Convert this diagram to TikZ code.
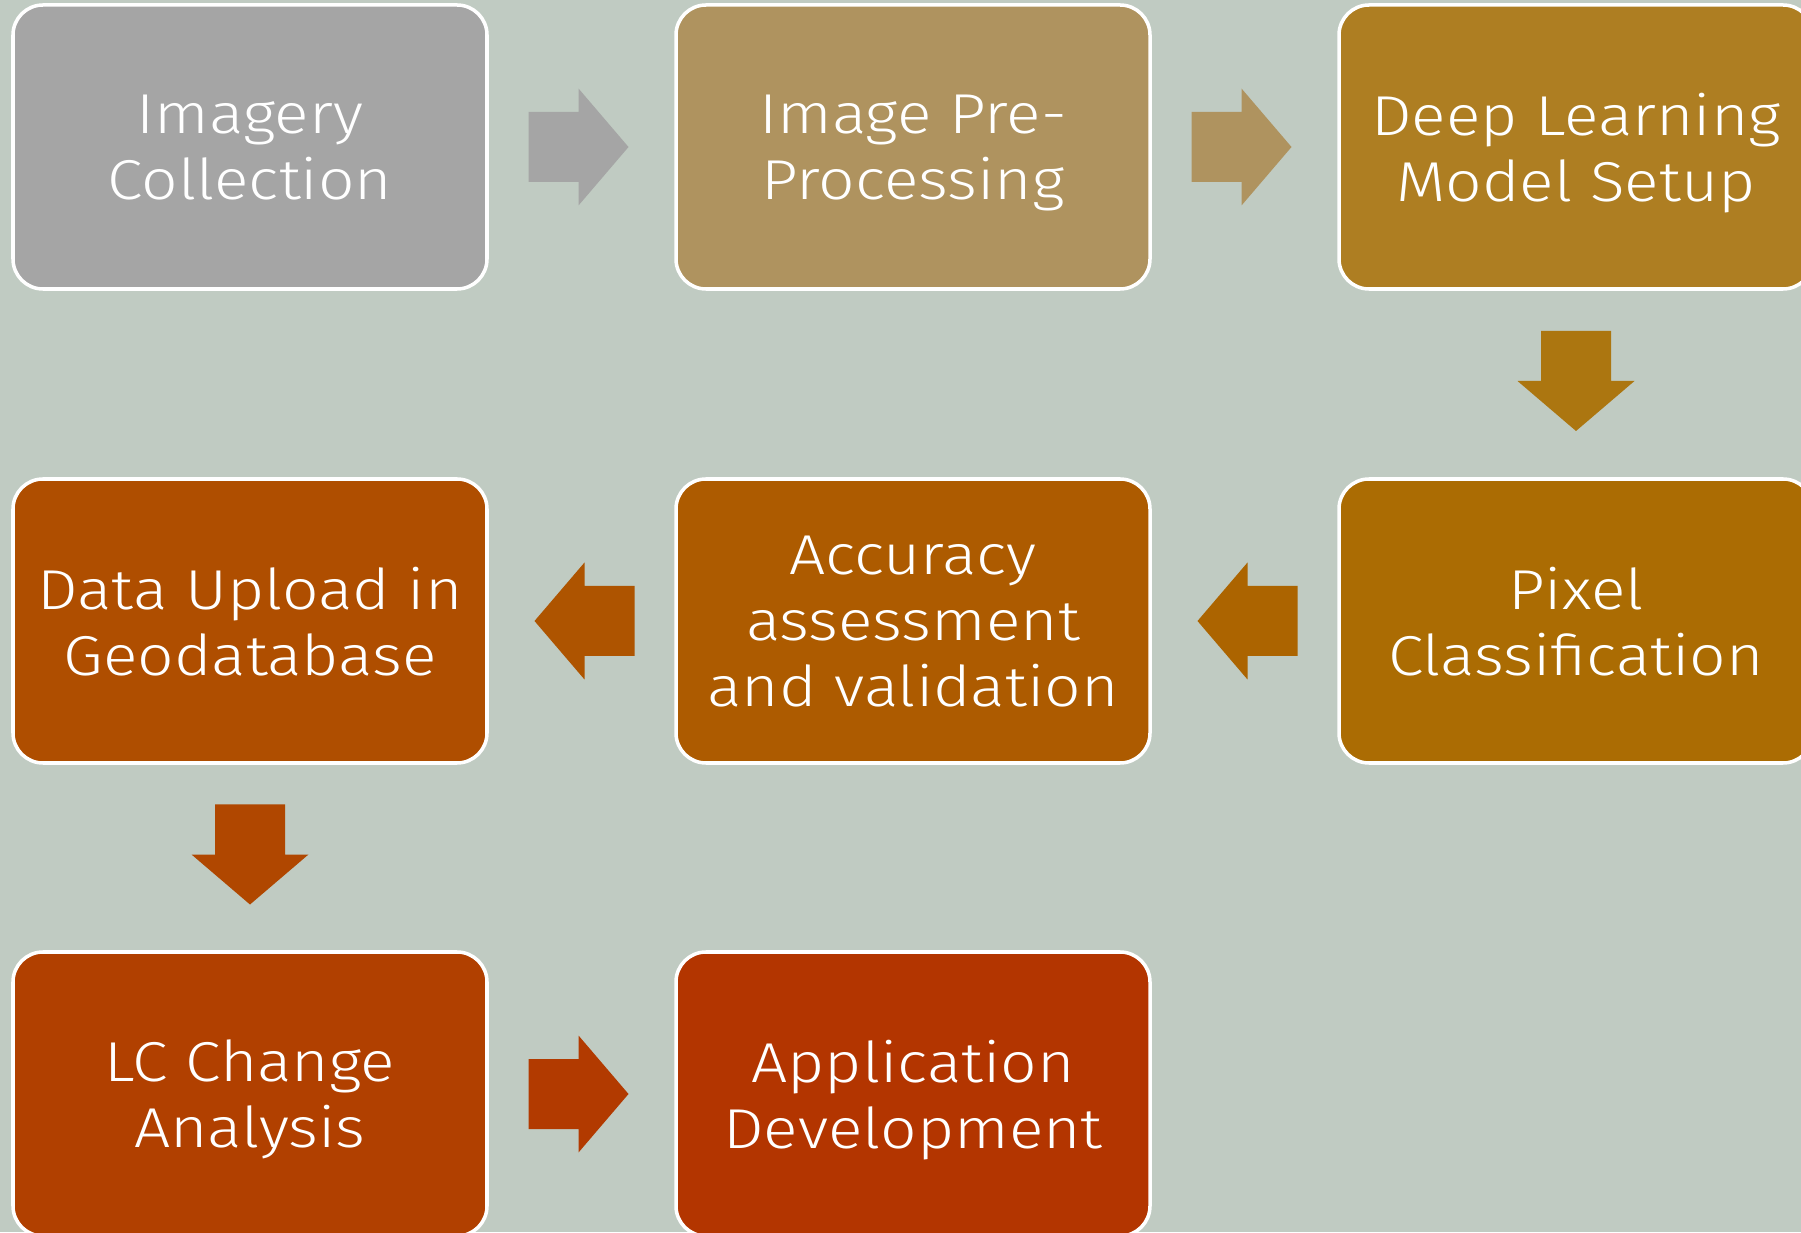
\documentclass[tikz,border=0pt]{standalone}
\usepackage{fontspec}
\setmainfont[FakeStretch=1.14]{Fira Sans Light}
\usetikzlibrary{calc}

\definecolor{bgGrey}{HTML}{C0CBC2}
\definecolor{cImg}{HTML}{A5A5A5}
\definecolor{cPre}{HTML}{AF935F}
\definecolor{cDeep}{HTML}{AE7E22}
\definecolor{cPix}{HTML}{AB6C03}
\definecolor{cAcc}{HTML}{AD5B00}
\definecolor{cUp}{HTML}{AF4E00}
\definecolor{cLc}{HTML}{B14000}
\definecolor{cApp}{HTML}{B33500}
\definecolor{aDeep}{HTML}{AC7610}
\definecolor{aPix}{HTML}{AC6400}
\definecolor{aAcc}{HTML}{AE5400}
\definecolor{aUp}{HTML}{B04700}
\definecolor{aLc}{HTML}{B23A00}

\begin{document}
\begin{tikzpicture}[
        stepbox/.style={rectangle, rounded corners=0.3cm, draw=white, line width=1pt,
            minimum width=4.74cm, minimum height=2.84cm, inner sep=0pt, outer sep=0pt,
            text=white, align=center, text depth=0pt,
            font=\fontsize{16}{18.8}\selectfont},
    ]

        \useasboundingbox (0,0) rectangle (18.01,12.32);
        \fill[bgGrey] (0,0) rectangle (18.01,12.32);

        \node[stepbox, fill=cImg]  (img)  at (2.50, 10.85) {Imagery\\Collection};
        \node[stepbox, fill=cPre]  (pre)  at (9.13, 10.85) {Image Pre-\\Processing};
        \node[stepbox, fill=cDeep] (deep) at (15.76, 10.85) {Deep Learning\\Model Setup};

        \node[stepbox, fill=cPix]  (pix)  at (15.76, 6.11) {Pixel\\Classification};
        \node[stepbox, fill=cAcc]  (acc)  at (9.13, 6.11) {Accuracy\\assessment\\and validation};
        \node[stepbox, fill=cUp]   (up)   at (2.50, 6.11) {Data Upload in\\Geodatabase};

        \node[stepbox, fill=cLc]   (lc)   at (2.50, 1.38) {LC Change\\Analysis};
        \node[stepbox, fill=cApp]  (app)  at (9.13, 1.38) {Application\\Development};

        % block arrows between the steps
        \foreach \from/\to/\ang/\col in {img/pre/0/cImg, pre/deep/0/cPre, deep/pix/-90/aDeep,
                pix/acc/180/aPix, acc/up/180/aAcc, up/lc/-90/aUp, lc/app/0/aLc} {
            \fill[\col, shift={($(\from)!0.5!(\to)$)}, rotate=\ang]
                (-0.53,-0.35) -- (-0.03,-0.35) -- (-0.03,-0.585) -- (0.47,0)
                -- (-0.03,0.585) -- (-0.03,0.35) -- (-0.53,0.35) -- cycle;
        }
    \end{tikzpicture}
\end{document}
